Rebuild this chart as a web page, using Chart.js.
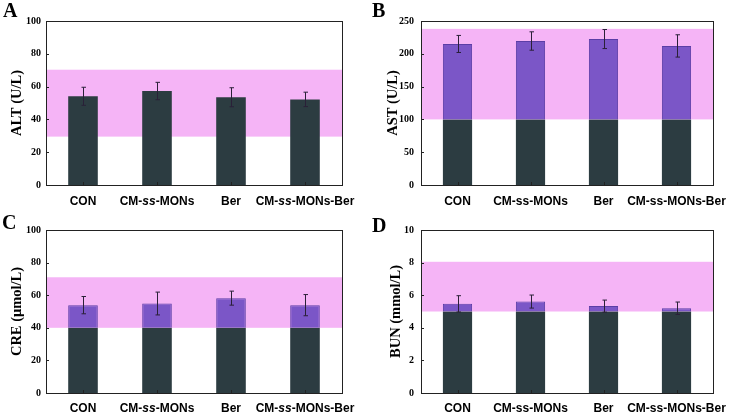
<!DOCTYPE html>
<html><head><meta charset="utf-8">
<script src="https://cdn.jsdelivr.net/npm/chart.js@4/dist/chart.umd.min.js"></script>
<style>
html,body{margin:0;padding:0;background:#fff;width:736px;height:414px;overflow:hidden}
canvas{position:absolute;display:block}
</style></head><body>
<canvas id="cA" width="368" height="207" style="left:0;top:0;width:368px;height:207px"></canvas>
<canvas id="cB" width="368" height="207" style="left:368px;top:0;width:368px;height:207px"></canvas>
<canvas id="cC" width="368" height="207" style="left:0;top:207px;width:368px;height:207px"></canvas>
<canvas id="cD" width="368" height="207" style="left:368px;top:207px;width:368px;height:207px"></canvas>
<script>
// ---- data ----
const categories = ['CON', 'CM-ss-MONs', 'Ber', 'CM-ss-MONs-Ber'];

const altValues = [54.1, 57.3, 53.5, 52.2];
const altErrors = [5.5, 5.3, 5.8, 4.4];
const altRange  = [29.5, 70.3];
const altTicks  = [0, 20, 40, 60, 80, 100];

const astValues = [215, 219.5, 222.5, 212];
const astErrors = [13, 14, 14.5, 17];
const astRange  = [100, 238];
const astTicks  = [0, 50, 100, 150, 200, 250];

const creValues = [53.9, 54.9, 58.2, 53.9];
const creErrors = [5.3, 7.0, 4.3, 6.5];
const creRange  = [40, 71];
const creTicks  = [0, 20, 40, 60, 80, 100];

const bunValues = [5.47, 5.61, 5.33, 5.20];
const bunErrors = [0.50, 0.40, 0.37, 0.38];
const bunRange  = [5, 8.05];
const bunTicks  = [0, 2, 4, 6, 8, 10];

// ---- styling ----
const COL = {dark:'#2c3c41', purple:'#7b56c7', purpleEdge:'#5b3ea6', pink:'#f5b4f6', err:'#2a2038', axis:'#222'};
const SERIF = '"Liberation Serif", "Times New Roman", serif';
const SANS = '"Liberation Sans", Arial, sans-serif';

function makeDeco(cfg){
  return {
    id:'deco',
    beforeDatasetsDraw(chart){
      const {ctx, chartArea:a, scales:{y}} = chart;
      const t = y.getPixelForValue(cfg.range[1]), b = y.getPixelForValue(cfg.range[0]);
      ctx.save(); ctx.fillStyle = COL.pink;
      ctx.fillRect(a.left, t, a.right - a.left, b - t);
      ctx.restore();
    },
    afterDatasetsDraw(chart){
      const {ctx, chartArea:a, scales:{x, y}} = chart;
      const meta = chart.getDatasetMeta(chart.data.datasets.length - 1);
      ctx.save();
      ctx.strokeStyle = COL.err; ctx.lineWidth = 1;
      cfg.values.forEach((v, i) => {
        const px = Math.round(meta.data[i].x) + 0.5;
        const t = y.getPixelForValue(v + cfg.errors[i]);
        const b = y.getPixelForValue(v - cfg.errors[i]);
        ctx.beginPath();
        ctx.moveTo(px, t); ctx.lineTo(px, b);
        ctx.moveTo(px - 2, t); ctx.lineTo(px + 2.5, t);
        ctx.moveTo(px - 2, b); ctx.lineTo(px + 2.5, b);
        ctx.stroke();
      });
      // box
      ctx.strokeStyle = COL.axis; ctx.lineWidth = 1;
      ctx.strokeRect(Math.round(a.left) + 0.5, Math.round(a.top) + 0.5, Math.round(a.right - a.left), Math.round(a.bottom - a.top));
      // inward ticks
      ctx.beginPath();
      cfg.ticks.forEach(tv => {
        const py = Math.round(y.getPixelForValue(tv)) + 0.5;
        ctx.moveTo(a.left, py); ctx.lineTo(a.left + 3, py);
      });
      categories.forEach((c, i) => {
        const px = Math.round(x.getPixelForValue(i)) + 0.5;
        ctx.moveTo(px, a.bottom); ctx.lineTo(px, a.bottom - 3);
      });
      ctx.stroke();
      ctx.restore();
    },
    afterDraw(chart){
      const {ctx, chartArea:a, scales:{x}} = chart;
      ctx.save();
      ctx.fillStyle = '#000';
      ctx.textBaseline = 'middle';
      const size = 12;
      categories.forEach((lab, i) => {
        const parts = cfg.italic ? lab.split(/(ss)/).filter(s => s) : [lab];
        const fonts = parts.map(p => (cfg.italic && p === 'ss' ? 'italic bold ' : 'bold ') + size + 'px ' + SANS);
        let w = 0;
        parts.forEach((p, k) => { ctx.font = fonts[k]; w += ctx.measureText(p).width; });
        let px = x.getPixelForValue(i) - w / 2;
        ctx.textAlign = 'left';
        parts.forEach((p, k) => { ctx.font = fonts[k]; ctx.fillText(p, px, a.bottom + cfg.labelGap); px += ctx.measureText(p).width; });
      });
      ctx.font = 'bold 20px ' + SERIF;
      ctx.textBaseline = 'alphabetic';
      ctx.fillText(cfg.letter, cfg.letterX, cfg.letterY);
      ctx.restore();
    }
  };
}

function makePanel(id, cfg){
  const datasets = cfg.split ? [
    {data: cfg.values.map(() => cfg.range[0]), backgroundColor: COL.dark, grouped:false, order:2},
    {data: cfg.values.map(v => [cfg.range[0], v]), backgroundColor: COL.purple, borderColor: COL.purpleEdge, borderWidth: 1, grouped:false, order:1}
  ] : [
    {data: cfg.values, backgroundColor: COL.dark}
  ];
  return new Chart(document.getElementById(id), {
    type:'bar',
    data:{labels: categories, datasets},
    options:{
      responsive:false, animation:false, devicePixelRatio:1,
      layout:{padding:{left:0, right:368 - cfg.area.right, top:cfg.area.top, bottom:0}},
      datasets:{bar:{barPercentage:0.4, categoryPercentage:1}},
      plugins:{legend:{display:false}, tooltip:{enabled:false}},
      scales:{
        x:{display:true, grid:{display:false, drawTicks:false}, border:{display:false}, ticks:{display:false},
           afterFit(s){ s.height = 207 - cfg.area.bottom; }},
        y:{min:0, max:cfg.ticks[cfg.ticks.length-1],
           afterBuildTicks(s){ s.ticks = cfg.ticks.map(v => ({value:v})); },
           grid:{display:false, drawTicks:false}, border:{display:false},
           ticks:{color:'#000', padding:cfg.tickPad, font:{family:SERIF, weight:'bold', size:10}},
           title:{display:true, text:cfg.title, color:'#000', font:{family:SERIF, weight:'bold', size:14.5}, padding:{top:cfg.titlePad, bottom:0}},
           afterFit(s){ s.width = cfg.area.left; }}
      }
    },
    plugins:[makeDeco(cfg)]
  });
}

makePanel('cA', {letter:'A', letterX:3, letterY:17, title:'ALT (U/L)', titlePad:8.5, values:altValues, errors:altErrors, range:altRange, ticks:altTicks, split:false, italic:true, area:{left:46, right:342, top:21, bottom:185}, tickPad:5, labelGap:17});
makePanel('cB', {letter:'B', letterX:4, letterY:17, title:'AST (U/L)', titlePad:16.5, values:astValues, errors:astErrors, range:astRange, ticks:astTicks, split:true, italic:false, area:{left:53, right:345, top:21, bottom:185}, tickPad:7, labelGap:17});
makePanel('cC', {letter:'C', letterX:2, letterY:22, title:'CRE (μmol/L)', titlePad:8.5, values:creValues, errors:creErrors, range:creRange, ticks:creTicks, split:true, italic:true, area:{left:46, right:342, top:23, bottom:186}, tickPad:5, labelGap:16});
makePanel('cD', {letter:'D', letterX:4, letterY:25, title:'BUN (mmol/L)', titlePad:19.5, values:bunValues, errors:bunErrors, range:bunRange, ticks:bunTicks, split:true, italic:false, area:{left:53, right:345, top:23, bottom:186}, tickPad:7, labelGap:16});
</script>
</body></html>
